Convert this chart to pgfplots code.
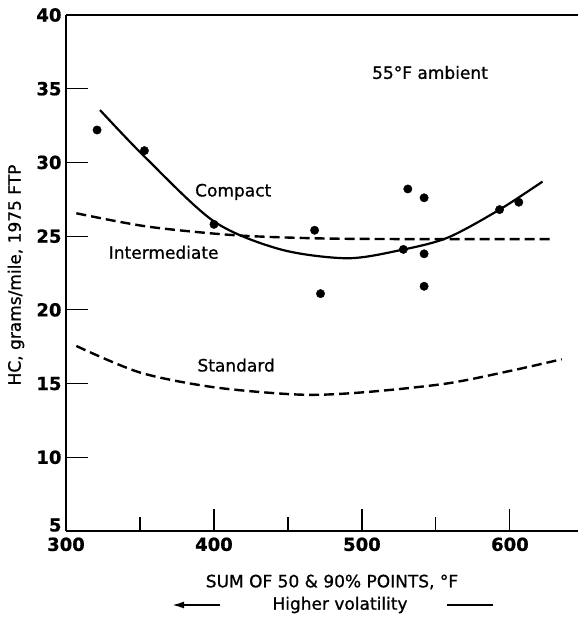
\documentclass[border=0pt]{standalone}
\usepackage{pgfplots}
\pgfplotsset{compat=1.18}
\usetikzlibrary{arrows.meta}
\usepackage{fontspec}
\setmainfont{DejaVu Sans}[FakeBold=0.9]
\newcommand{\lbl}{\fontsize{17}{20}\selectfont}
\newcommand{\tkl}{\fontsize{18}{21}\selectfont}
\begin{document}
\begin{tikzpicture}[x=1pt,y=1pt]
\begin{axis}[
  at={(66pt,90pt)}, anchor=south west,
  scale only axis, width=512pt, height=516pt,
  xmin=300, xmax=646, ymin=5, ymax=40,
  axis x line*=bottom, axis y line*=left,
  axis line style={line width=1.6pt},
  xtick={300,400,500,600}, minor xtick={350,450,550},
  ytick={10,15,...,40}, extra y ticks={5},
  extra y tick style={major tick length=0pt, yticklabel style={yshift=6pt}},
  tick align=inside, major tick length=22pt, minor tick length=14pt,
  tick style={line width=1.1pt, black},
  ticklabel style={font=\tkl\bfseries},
  xticklabel style={yshift=-3pt},
  yticklabel style={xshift=-1pt},
  /pgf/number format/assume math mode=true,
  clip=false,
]
\draw[line width=1.6pt] (rel axis cs:0,1) -- (rel axis cs:1,1);

% measured points
\addplot[only marks, mark=*, mark size=4.2pt, black] coordinates {
  (321,32.2) (353,30.8) (400,25.8) (468,25.4) (472,21.1)
  (531,28.2) (542,27.6) (528,24.1) (542,23.8) (542,21.6)
  (593,26.8) (606,27.3)
};

% Compact
\addplot[line width=2.2pt, smooth, black] coordinates {
  (323,33.55) (353,30.4) (400,26.0) (445,24.1) (490,23.5)
  (526,24.05) (558,24.9) (593,26.8) (622,28.7)
};

% Intermediate
\addplot[line width=2.4pt, smooth, black, dash pattern=on 10pt off 5pt] coordinates {
  (307,26.55) (355,25.65) (413,25.07) (470,24.85) (530,24.8) (630,24.8)
};

% Standard
\addplot[line width=2.4pt, smooth, black, dash pattern=on 10pt off 5pt] coordinates {
  (307,17.55) (350,15.75) (400,14.75) (458,14.25) (500,14.4)
  (557,15.0) (602,15.9) (635,16.65)
};

\node[font=\lbl] at (axis cs:546,36.1) {55°F ambient};
\node[font=\lbl] at (axis cs:413,28.0) {Compact};
\node[font=\lbl] at (axis cs:366,23.9) {Intermediate};
\node[font=\lbl] at (axis cs:415,16.25) {Standard};
\end{axis}

\node[font=\lbl, rotate=90] at (16,346) {HC, grams/mile, 1975 FTP};
\node[font=\lbl] at (332,39) {SUM OF 50 \& 90\% POINTS, °F};
\node[font=\lbl] at (340,16) {Higher volatility};
\draw[line width=1.8pt, -{Latex[length=12pt,width=7pt]}] (220,16) -- (172,16);
\draw[line width=1.3pt] (447,16) -- (493,16);

\pgfresetboundingbox
\useasboundingbox (0,0) rectangle (578,621);
\end{tikzpicture}
\end{document}
